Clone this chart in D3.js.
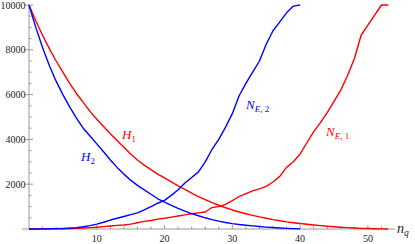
<!DOCTYPE html>
<html><head><meta charset="utf-8">
<script src="https://cdn.jsdelivr.net/npm/d3@7"></script>
<style>body{margin:0;background:#fff}svg{display:block}</style>
</head><body>
<script>
const nH2 = d3.range(0, 41);
const H2 = [10000,9000,8100,7300,6600,6000,5450,4950,4500,4150,3800,3450,3080,2750,2450,2180,1950,1750,1550,1350,1200,1050,920,800,690,590,500,420,350,290,240,200,170,140,110,85,65,45,30,15,5];
const NE2 = [0,2,5,8,15,25,40,60,100,150,220,300,400,480,560,640,720,850,1000,1150,1280,1500,1750,2050,2300,2550,3000,3550,4000,4550,5150,5950,6500,7000,7500,8250,8850,9250,9650,9950,10000];
const nH1 = d3.range(0, 54);
const H1 = [10000,9300,8650,8050,7500,7000,6500,6050,5650,5250,4900,4580,4250,3950,3650,3350,3080,2850,2650,2450,2280,2100,1930,1770,1600,1450,1310,1180,1060,950,850,760,680,610,540,480,420,370,320,280,245,210,180,150,125,100,80,60,45,30,20,10,5,0];
const NE1 = [0,0,2,5,8,12,20,30,45,60,80,105,135,160,180,220,280,340,380,440,480,530,580,630,680,720,760,960,1000,1100,1270,1450,1580,1700,1790,1900,2100,2350,2750,3000,3350,3850,4350,4750,5200,5700,6200,6850,7600,8650,9100,9550,10000,10000];
const xMajor = [10,20,30,40,50];
const xMinor = d3.range(2, 54, 2).filter(v => v % 10 !== 0);
const yMajor = [2000,4000,6000,8000,10000];
const yMajorLabels = ["2000","4000","6000","8000","10000"];
const yMinor = d3.range(500, 10000, 500).filter(v => v % 2000 !== 0);

const W = 415, H = 244;
const svg = d3.select("body").append("svg").attr("width", W).attr("height", H);
const x = d3.scaleLinear().domain([0, 54]).range([29, 395]);
const y = d3.scaleLinear().domain([0, 10000]).range([229, 5]);
const axisColor = "#999";
const font = "'Liberation Serif','DejaVu Serif',serif";

// axes
svg.append("line").attr("x1", 22).attr("x2", x(54)).attr("y1", y(0)).attr("y2", y(0)).attr("stroke", axisColor).attr("stroke-width", 1);
svg.append("line").attr("x1", x(0)).attr("x2", x(0)).attr("y1", y(0)).attr("y2", y(10000)).attr("stroke", axisColor).attr("stroke-width", 1);
svg.selectAll(".xmaj").data(xMajor).join("line").attr("x1", d => x(d)).attr("x2", d => x(d)).attr("y1", y(0)).attr("y2", y(0) - 4).attr("stroke", axisColor);
svg.selectAll(".xmin").data(xMinor).join("line").attr("x1", d => x(d)).attr("x2", d => x(d)).attr("y1", y(0)).attr("y2", y(0) - 2.5).attr("stroke", axisColor);
svg.selectAll(".ymaj").data(yMajor).join("line").attr("x1", x(0) - 4).attr("x2", x(0) + 4).attr("y1", d => y(d)).attr("y2", d => y(d)).attr("stroke", axisColor);
svg.selectAll(".ymin").data(yMinor).join("line").attr("x1", x(0)).attr("x2", x(0) + 2.5).attr("y1", d => y(d)).attr("y2", d => y(d)).attr("stroke", axisColor);

svg.selectAll(".xl").data(xMajor).join("text").attr("x", d => x(d)).attr("y", y(0) + 13)
  .attr("text-anchor", "middle").attr("font-family", font).attr("font-size", 10).attr("fill", "#222").text(d => d);
svg.selectAll(".yl").data(yMajor).join("text").attr("x", x(0) - 3.5).attr("y", d => Math.max(y(d) + 3.5, 8.5))
  .attr("text-anchor", "end").attr("font-family", font).attr("font-size", 10).attr("fill", "#222")
  .attr("textLength", (d, i) => yMajorLabels[i].length > 4 ? 25 : null)
  .attr("lengthAdjust", "spacing")
  .text((d, i) => yMajorLabels[i]);

// n_q label
const nq = svg.append("text").attr("x", 397).attr("y", 233).attr("font-family", font).attr("font-size", 14).attr("font-style", "italic").attr("fill", "#222");
nq.append("tspan").text("n");
nq.append("tspan").attr("font-size", 9.5).attr("dy", 3).text("q");

// curves
const line = d3.line().x(d => x(d[0])).y(d => y(d[1]));
function draw(ns, vs, color) {
  svg.append("path").datum(ns.map((n, i) => [n, vs[i]])).attr("d", line)
    .attr("fill", "none").attr("stroke", color).attr("stroke-width", 1.4).attr("stroke-linejoin", "round");
}
draw(nH1, H1, "#f00");
draw(nH1, NE1, "#f00");
draw(nH2, H2, "#00f");
draw(nH2, NE2, "#00f");

function label(px, py, main, subItalic, subRoman, color) {
  const t = svg.append("text").attr("x", px).attr("y", py).attr("font-family", font).attr("font-size", 13).attr("fill", color);
  t.append("tspan").attr("font-style", "italic").text(main);
  if (subItalic) t.append("tspan").attr("font-size", 9).attr("dy", 3).attr("font-style", "italic").text(subItalic);
  t.append("tspan").attr("font-size", 9).attr("dy", subItalic ? 0 : 3).text(subRoman);
}
label(122, 139, "H", "", "1", "#f00");
label(81, 161, "H", "", "2", "#00f");
label(246, 109, "N", "E", ", 2", "#00f");
label(326, 136, "N", "E", ", 1", "#f00");
</script>
</body></html>
